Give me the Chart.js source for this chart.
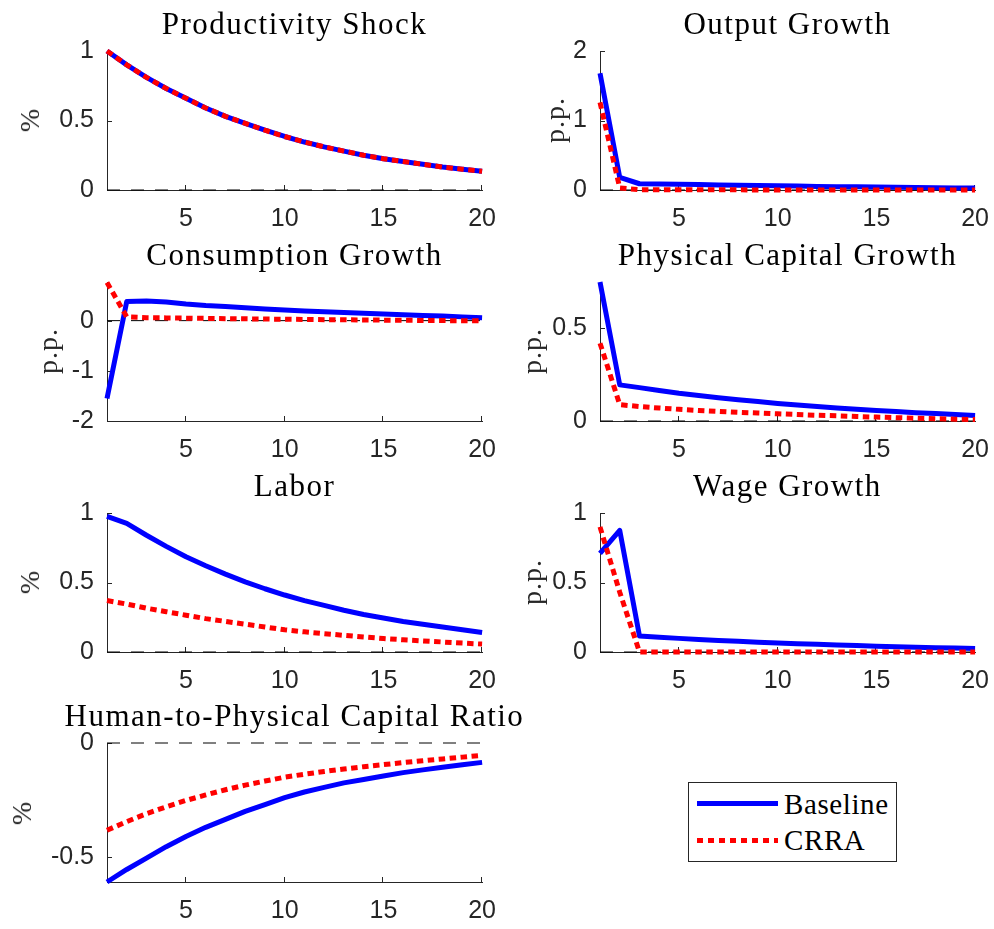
<!DOCTYPE html>
<html lang="en">
<head>
<meta charset="UTF-8">
<title>Impulse responses: Baseline vs CRRA</title>
<script src="https://cdn.jsdelivr.net/npm/chart.js"></script>
<style>
  body { margin: 0; background: #fff; }
  #fig { position: relative; width: 994px; height: 929px; overflow: hidden; background: #fff; }
  canvas { position: absolute; }
  .ttl { position: absolute; width: 600px; text-align: center; white-space: nowrap;
         font-family: "Liberation Serif", "Times New Roman", serif; font-size: 31px; line-height: 34px;
         letter-spacing: 1.5px; color: #000; }
  .ylab { position: absolute; white-space: nowrap; transform: translate(-50%, -50%) rotate(-90deg);
          font-family: "Liberation Serif", "Times New Roman", serif; font-size: 28px; line-height: 28px;
          letter-spacing: 1px; color: #262626; }
  #legend { position: absolute; left: 688px; top: 782px; width: 207px; height: 78px;
            border: 1px solid #262626; background: #fff; }
  .lg-line { position: absolute; left: 8px; width: 81px; height: 5px; }
  .lg-txt { position: absolute; left: 95px; font-family: "Liberation Serif", "Times New Roman", serif;
            font-size: 29px; line-height: 30px; letter-spacing: 0.6px; color: #000; }
</style>
</head>
<body>
<div id="fig">
  <div id="legend">
    <div class="lg-line" style="top:18px;background:#0000ff"></div>
    <div class="lg-txt" style="top:6px">Baseline</div>
    <div class="lg-line" style="top:55px;background:repeating-linear-gradient(to right,#ff0000 0 6.5px,transparent 6.5px 11px)"></div>
    <div class="lg-txt" style="top:42px">CRRA</div>
  </div>
</div>

<script>
// horizon
const periods = [1, 2, 3, 4, 5, 6, 7, 8, 9, 10, 11, 12, 13, 14, 15, 16, 17, 18, 19, 20];
const xTickValues = [5, 10, 15, 20];

// Productivity Shock (%)
const shockBase = [1.00, 0.90, 0.81, 0.73, 0.66, 0.59, 0.53, 0.48, 0.43, 0.385, 0.345, 0.31, 0.28, 0.25, 0.225, 0.205, 0.185, 0.165, 0.15, 0.135];
const shockCrra = [1.00, 0.90, 0.81, 0.73, 0.66, 0.59, 0.53, 0.48, 0.43, 0.385, 0.345, 0.31, 0.28, 0.25, 0.225, 0.205, 0.185, 0.165, 0.15, 0.135];

// Output Growth (p.p.)
const outputBase = [1.68, 0.18, 0.09, 0.086, 0.082, 0.078, 0.073, 0.068, 0.064, 0.06, 0.056, 0.052, 0.048, 0.045, 0.042, 0.039, 0.036, 0.033, 0.03, 0.028];
const outputCrra = [1.26, 0.03, 0.004, 0.003, 0.003, 0.002, 0.002, 0.002, 0.001, 0.001, 0.001, 0.001, 0, 0, 0, 0, 0, 0, 0, 0];

// Consumption Growth (p.p.)
const consBase = [-1.55, 0.38, 0.39, 0.37, 0.33, 0.30, 0.28, 0.255, 0.23, 0.21, 0.19, 0.175, 0.16, 0.145, 0.13, 0.115, 0.10, 0.09, 0.075, 0.06];
const consCrra = [0.76, 0.075, 0.06, 0.055, 0.05, 0.045, 0.04, 0.036, 0.032, 0.028, 0.024, 0.02, 0.017, 0.014, 0.01, 0.007, 0.004, 0.001, -0.002, -0.005];

// Physical Capital Growth (p.p.)
const capBase = [0.75, 0.195, 0.18, 0.165, 0.15, 0.138, 0.126, 0.115, 0.105, 0.095, 0.086, 0.078, 0.07, 0.063, 0.057, 0.051, 0.045, 0.04, 0.035, 0.03];
const capCrra = [0.42, 0.088, 0.078, 0.07, 0.063, 0.057, 0.052, 0.047, 0.043, 0.039, 0.035, 0.031, 0.028, 0.024, 0.021, 0.018, 0.015, 0.012, 0.01, 0.008];

// Labor (%)
const laborBase = [0.975, 0.925, 0.84, 0.76, 0.685, 0.62, 0.56, 0.505, 0.455, 0.41, 0.37, 0.335, 0.30, 0.27, 0.245, 0.22, 0.20, 0.18, 0.16, 0.14];
const laborCrra = [0.37, 0.345, 0.315, 0.29, 0.265, 0.24, 0.22, 0.20, 0.18, 0.16, 0.145, 0.132, 0.12, 0.108, 0.097, 0.088, 0.08, 0.072, 0.064, 0.057];

// Wage Growth (p.p.)
const wageBase = [0.71, 0.875, 0.115, 0.106, 0.098, 0.09, 0.083, 0.077, 0.071, 0.065, 0.06, 0.055, 0.05, 0.046, 0.042, 0.038, 0.034, 0.031, 0.028, 0.025];
const wageCrra = [0.90, 0.43, 0, 0, 0, 0, 0, 0, 0, 0, 0, 0, 0, 0, 0, 0, 0, 0, 0, 0];

// Human-to-Physical Capital Ratio (%)
const ratioBase = [-0.61, -0.555, -0.505, -0.455, -0.41, -0.37, -0.335, -0.30, -0.27, -0.24, -0.215, -0.195, -0.175, -0.16, -0.145, -0.13, -0.118, -0.106, -0.095, -0.085];
const ratioCrra = [-0.383, -0.345, -0.31, -0.28, -0.252, -0.228, -0.205, -0.185, -0.167, -0.15, -0.137, -0.125, -0.114, -0.104, -0.095, -0.086, -0.078, -0.07, -0.062, -0.054];

// zero reference line (dashed), ends of the horizon
const zeroLine = [0, 0];

const panelTitles = ['Productivity Shock', 'Output Growth', 'Consumption Growth', 'Physical Capital Growth',
                     'Labor', 'Wage Growth', 'Human-to-Physical Capital Ratio'];
const panelUnits = ['%', 'p.p.', 'p.p.', 'p.p.', '%', 'p.p.', '%'];
const baseSeries = [shockBase, outputBase, consBase, capBase, laborBase, wageBase, ratioBase];
const crraSeries = [shockCrra, outputCrra, consCrra, capCrra, laborCrra, wageCrra, ratioCrra];
const yTickValues = [[0, 0.5, 1], [0, 1, 2], [-2, -1, 0], [0, 0.5], [0, 0.5, 1], [0, 0.5, 1], [-0.5, 0]];
const yLimits = [[0, 1], [0, 2], [-2, 0.77], [0, 0.75], [0, 1], [0, 1], [-0.61, 0]];

// layout of the subplot grid (plot-area corners in page pixels)
const colLeft = [107, 600];
const rowTop = [51, 282, 513, 743];
const plotW = 375, plotH = 139;
const YAXW = 90, XAXH = 45, PADT = 20, PADR = 22;
const ylabPos = [[30, 120], [555, 120], [48, 351], [532, 351], [30, 582], [532, 582], [22, 813]];

const fig = document.getElementById('fig');
const tickFont = { family: '"Liberation Sans", Arial, Helvetica, sans-serif', size: 25 };
const axisColor = '#262626';

// MATLAB style ticks that point into the plot
const innerTicks = {
  id: 'innerTicks',
  beforeDatasetsDraw(chart) {
    const { ctx, chartArea, scales: { x, y } } = chart;
    ctx.save();
    ctx.strokeStyle = axisColor;
    ctx.lineWidth = 1;
    ctx.beginPath();
    x.ticks.forEach(t => {
      const px = Math.round(x.getPixelForValue(t.value)) - 0.5;
      ctx.moveTo(px, chartArea.bottom);
      ctx.lineTo(px, chartArea.bottom - 5);
    });
    y.ticks.forEach(t => {
      const py = Math.round(y.getPixelForValue(t.value)) + 0.5;
      ctx.moveTo(chartArea.left, py);
      ctx.lineTo(chartArea.left + 5, py);
    });
    ctx.stroke();
    ctx.restore();
  }
};

function panelConfig(i) {
  const pts = arr => periods.map((p, k) => ({ x: p, y: arr[k] }));
  return {
    type: 'line',
    data: {
      datasets: [
        { label: 'CRRA', data: pts(crraSeries[i]), borderColor: '#ff0000', borderWidth: 5,
          borderDash: [6.5, 4.5], order: 0 },
        { label: 'Baseline', data: pts(baseSeries[i]), borderColor: '#0000ff', borderWidth: 5,
          borderJoinStyle: 'round', order: 1 },
        { label: 'zero', data: [{ x: periods[0], y: zeroLine[0] }, { x: periods[periods.length - 1], y: zeroLine[1] }],
          borderColor: '#000000', borderWidth: 1, borderDash: [13, 11], order: 2 }
      ]
    },
    options: {
      responsive: false,
      maintainAspectRatio: false,
      animation: false,
      devicePixelRatio: 1,
      layout: { padding: { left: 0, top: PADT, right: PADR, bottom: 0 } },
      elements: { point: { radius: 0, hoverRadius: 0 }, line: { tension: 0, fill: false } },
      datasets: { line: { clip: false } },
      plugins: { legend: { display: false }, title: { display: false }, tooltip: { enabled: false } },
      events: [],
      scales: {
        x: {
          type: 'linear', min: 1, max: 20,
          afterBuildTicks: s => { s.ticks = xTickValues.map(v => ({ value: v })); },
          afterFit: s => { s.height = XAXH; },
          grid: { display: false, drawTicks: false },
          border: { display: true, color: axisColor, width: 1 },
          ticks: { padding: 14, color: axisColor, font: tickFont, maxRotation: 0, autoSkip: false,
                   callback: v => String(v) }
        },
        y: {
          type: 'linear', min: yLimits[i][0], max: yLimits[i][1],
          afterBuildTicks: s => { s.ticks = yTickValues[i].map(v => ({ value: v })); },
          afterFit: s => { s.width = YAXW; },
          grid: { display: false, drawTicks: false },
          border: { display: true, color: axisColor, width: 1 },
          ticks: { padding: 13, color: axisColor, font: tickFont, autoSkip: false,
                   callback: v => String(v) }
        }
      }
    },
    plugins: [innerTicks]
  };
}

function makePanel(i) {
  const col = i % 2, row = Math.floor(i / 2);
  const left = colLeft[col], top = rowTop[row];

  const cv = document.createElement('canvas');
  cv.width = YAXW + plotW + PADR;
  cv.height = PADT + plotH + XAXH;
  fig.appendChild(cv);

  let chart = new Chart(cv.getContext('2d'), panelConfig(i));
  // grow the canvas by whatever the layout took away, so the plot area matches the figure
  let ca = chart.chartArea;
  const dw = plotW - (ca.right - ca.left), dh = plotH - (ca.bottom - ca.top);
  if (Math.abs(dw) > 0.01 || Math.abs(dh) > 0.01) {
    const w = cv.width + Math.round(dw), h = cv.height + Math.round(dh);
    chart.destroy();
    cv.width = w; cv.height = h;
    chart = new Chart(cv.getContext('2d'), panelConfig(i));
    ca = chart.chartArea;
  }
  cv.style.left = Math.round(left - ca.left) + 'px';
  cv.style.top = Math.round(top - ca.top) + 'px';

  const t = document.createElement('div');
  t.className = 'ttl';
  t.textContent = panelTitles[i];
  t.style.left = (left + plotW / 2 - 300) + 'px';
  t.style.top = (top - 44) + 'px';
  fig.appendChild(t);

  const u = document.createElement('div');
  u.className = 'ylab';
  u.textContent = panelUnits[i];
  u.style.left = ylabPos[i][0] + 'px';
  u.style.top = ylabPos[i][1] + 'px';
  fig.appendChild(u);
}

for (let i = 0; i < panelTitles.length; i++) makePanel(i);
</script>
</body>
</html>
